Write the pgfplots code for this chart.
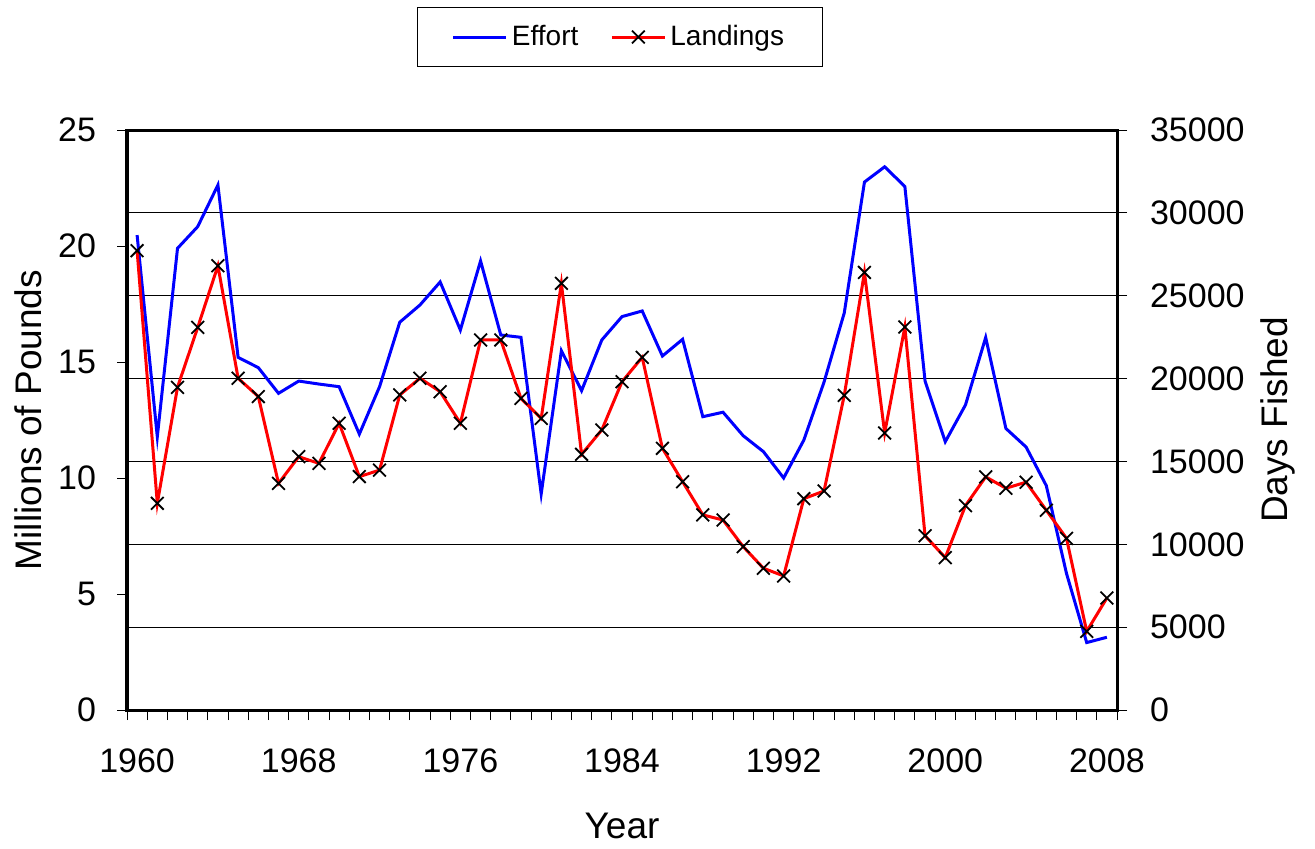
\documentclass[border=0pt]{standalone}
\usepackage{fontspec}
\setmainfont{Liberation Sans}
\usepackage{pgfplots}
\pgfplotsset{compat=1.18}
\usepackage{pgfplotstable}

% Landings, millions of pounds (left axis)
\pgfplotstableread{
year pounds
1960 19.80
1961 8.91
1962 13.91
1963 16.49
1964 19.15
1965 14.30
1966 13.51
1967 9.77
1968 10.92
1969 10.63
1970 12.36
1971 10.06
1972 10.34
1973 13.58
1974 14.30
1975 13.72
1976 12.36
1977 15.95
1978 15.95
1979 13.43
1980 12.57
1981 18.39
1982 11.02
1983 12.07
1984 14.15
1985 15.20
1986 11.28
1987 9.84
1988 8.41
1989 8.19
1990 7.04
1991 6.11
1992 5.78
1993 9.11
1994 9.44
1995 13.56
1996 18.86
1997 11.94
1998 16.51
1999 7.51
2000 6.57
2001 8.81
2002 10.05
2003 9.56
2004 9.82
2005 8.61
2006 7.40
2007 3.39
2008 4.83
}\landings

% Effort, days fished (right axis)
\pgfplotstableread{
year days
1960 28660
1961 16490
1962 27860
1963 29170
1964 31680
1965 21280
1966 20660
1967 19110
1968 19850
1969 19670
1970 19510
1971 16650
1972 19510
1973 23400
1974 24440
1975 25830
1976 22930
1977 27100
1978 22630
1979 22490
1980 13040
1981 21680
1982 19270
1983 22330
1984 23740
1985 24080
1986 21360
1987 22370
1988 17700
1989 17970
1990 16550
1991 15590
1992 14000
1993 16290
1994 19790
1995 23960
1996 31860
1997 32780
1998 31590
1999 19850
2000 16190
2001 18410
2002 22480
2003 16990
2004 15870
2005 13540
2006 8240
2007 4070
2008 4390
}\effort

\pgfplotsset{
  common/.style={
    scale only axis,
    width=495pt, height=290pt,
    xmin=1959.5, xmax=2008.5,
    axis line style={line width=1.5pt},
    tick style={line width=0.5pt, black},
    tick align=outside,
    major tick length=5pt,
    /pgf/number format/1000 sep={},
    /pgf/number format/assume math mode=true,
    scaled y ticks=false,
    tick label style={font=\fontsize{17}{20}\selectfont},
    label style={font=\fontsize{18.5}{22}\selectfont},
  }
}

\begin{document}
\begin{tikzpicture}
\useasboundingbox (-63.5pt,-69pt) rectangle (594pt,355pt);

% effort on the right axis, with the grid
\begin{axis}[
    common,
    ymin=0, ymax=35000,
    ytick={0,5000,...,35000},
    ytick pos=right,
    yticklabel pos=right,
    yticklabel style={xshift=8pt},
    ymajorgrids,
    grid style={black, line width=0.5pt},
    xtick={1959.5,1960.5,...,2008.5},
    xticklabels={},
    xtick pos=bottom,
    extra x ticks={1960,1968,...,2008},
    extra x tick style={major tick length=0pt, xticklabel style={yshift=-16pt}},
    ylabel={Days Fished},
    ylabel style={at={(axis description cs:1.163,0.5)}, anchor=center},
    xlabel={Year},
    xlabel style={at={(axis description cs:0.5,-0.2)}, anchor=center},
]
\addplot[blue, line width=1.5pt] table[x=year, y=days] {\effort};
\end{axis}

% landings on the left axis
\begin{axis}[
    common,
    ymin=0, ymax=25,
    ytick={0,5,...,25},
    ytick pos=left,
    yticklabel style={xshift=-7pt},
    xtick=\empty,
    ylabel={Millions of Pounds},
    ylabel style={at={(axis description cs:-0.1,0.5)}, anchor=center},
    legend columns=2,
    legend style={at={(0.498,1)}, anchor=center, yshift=46.5pt,
      draw=black, line width=0.5pt, inner xsep=17pt, inner ysep=7pt,
      font=\fontsize{14}{17}\selectfont,
      /tikz/every even column/.append style={column sep=14pt}},
    legend image code/.code={\draw[mark repeat=2, mark phase=2, line width=1.5pt]
      plot coordinates {(0pt,0pt) (13.25pt,0pt) (26.5pt,0pt)};},
]
\addlegendimage{blue}
\addlegendentry{Effort}
\addplot[red, line width=1.5pt, mark=x, mark size=4.5pt,
  mark options={draw=black, line width=0.9pt}] table[x=year, y=pounds] {\landings};
\addlegendentry{Landings}
\end{axis}
\end{tikzpicture}
\end{document}
